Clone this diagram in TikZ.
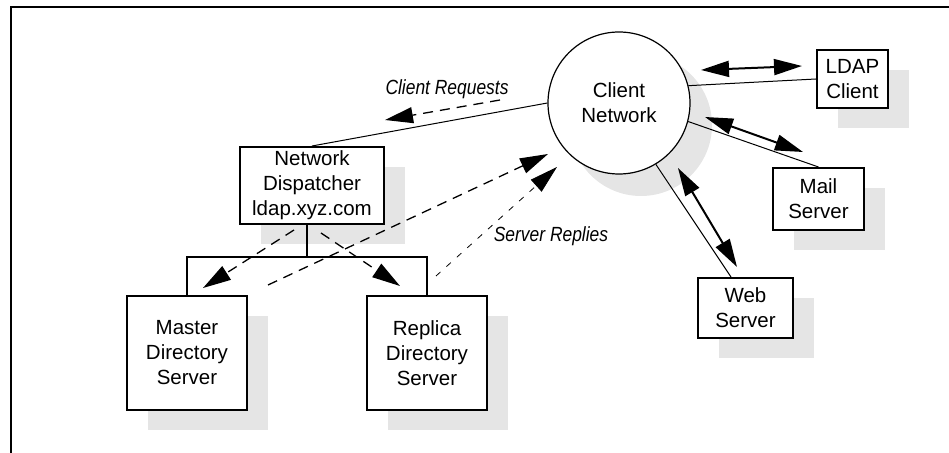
\documentclass[tikz,border=0pt]{standalone}
\usepackage{fontspec}
\setmainfont{Liberation Sans}
\newfontfamily\labelfont[FakeStretch=0.85]{Liberation Sans}
\usepackage{tikz}
\usetikzlibrary{arrows.meta,positioning,calc,shadows}
\tikzset{
  bigtip/.tip={Triangle[length=14pt, width=8pt]},
  box/.style={rectangle, draw, line width=1pt, align=center, inner sep=0pt, fill=white,
    drop shadow={shadow xshift=10.5pt, shadow yshift=-10pt, fill=gray!20, opacity=1}},
  netcircle/.style={circle, draw, line width=0.6pt, align=center, inner sep=0pt, fill=white,
    minimum size=71pt,
    drop shadow={shadow xshift=11pt, shadow yshift=-11pt, fill=gray!20, opacity=1}},
  link/.style={line width=0.5pt},
  bus/.style={line width=1pt},
  duplex/.style={bigtip-bigtip, line width=1pt},
  flow/.style={-bigtip, line width=0.65pt, dash pattern=on 5pt off 3.5pt},
  thinflow/.style={-bigtip, line width=0.4pt, dash pattern=on 3pt off 4pt},
  note/.style={font=\fontsize{10.25}{12.5}\labelfont\itshape}
}

\begin{document}
\begin{tikzpicture}[x=0.5pt, y=-0.5pt, font=\fontsize{10.25}{12.5}\selectfont]
  \useasboundingbox (0,0) rectangle (949,453);
  % frame
  \draw[line width=0.7pt] (11,453) -- (11,7) -- (949,7);

  % nodes
  \node[netcircle] (net) at (619,103) {Client\\Network};
  \node[box, minimum width=72pt, minimum height=38.5pt] (disp) at (312,185.5) {Network\\Dispatcher\\ldap.xyz.com};
  \node[box, minimum width=60pt, minimum height=57pt] (master) at (187,353) {Master\\Directory\\Server};
  \node[box, minimum width=60pt, minimum height=57pt] (replica) at (427,353) {Replica\\Directory\\Server};
  \node[box, minimum width=35.5pt, minimum height=29pt] (ldap) at (852.5,79) {LDAP\\Client};
  \node[box, minimum width=45.5pt, minimum height=31pt] (mail) at (818.5,199) {Mail\\Server};
  \node[box, minimum width=47.5pt, minimum height=30pt] (web) at (745.5,308) {Web\\Server};

  % wiring
  \coordinate (bus) at (307,257);
  \draw[bus] (master.north) |- (bus) -| (replica.north);
  \draw[bus] (disp.south -| bus) -- (bus);
  \draw[link] (disp.north) -- (net.west);
  \draw[link] (net.14) -- (ldap.west);
  \draw[link] (net.-15) -- (mail.north);
  \draw[link] (net.-59) -- ($(web.north)+(-14.5,0)$);

  % traffic to the clients
  \coordinate (ldapA) at (701,70);
  \coordinate (ldapB) at (802,66);
  \coordinate (mailA) at (705,117);
  \coordinate (mailB) at (803,152);
  \coordinate (webA) at (678,168);
  \coordinate (webB) at (737,267);
  \draw[duplex] (ldapA) -- (ldapB);
  \draw[duplex] (mailA) -- (mailB);
  \draw[duplex] (webA) -- (webB);

  % requests and replies
  \coordinate (reqA) at (500,100);
  \coordinate (reqB) at (385,120);
  \coordinate (toMaster) at (294,230);
  \coordinate (masterTip) at (203,288);
  \coordinate (toReplica) at (321,233);
  \coordinate (replicaTip) at (400,286);
  \coordinate (masterOut) at (268,285);
  \coordinate (masterIn) at (548,154);
  \coordinate (replicaOut) at (436,276);
  \coordinate (replicaIn) at (557,167);
  \draw[flow] (reqA) -- (reqB);
  \draw[flow] (toMaster) -- (masterTip);
  \draw[flow] (toReplica) -- (replicaTip);
  \draw[flow] (masterOut) -- (masterIn);
  \draw[thinflow] (replicaOut) -- (replicaIn);

  \node[note] (requests) at (447,89) {Client Requests};
  \node[note] (replies) at (551,236) {Server Replies};
\end{tikzpicture}
\end{document}
